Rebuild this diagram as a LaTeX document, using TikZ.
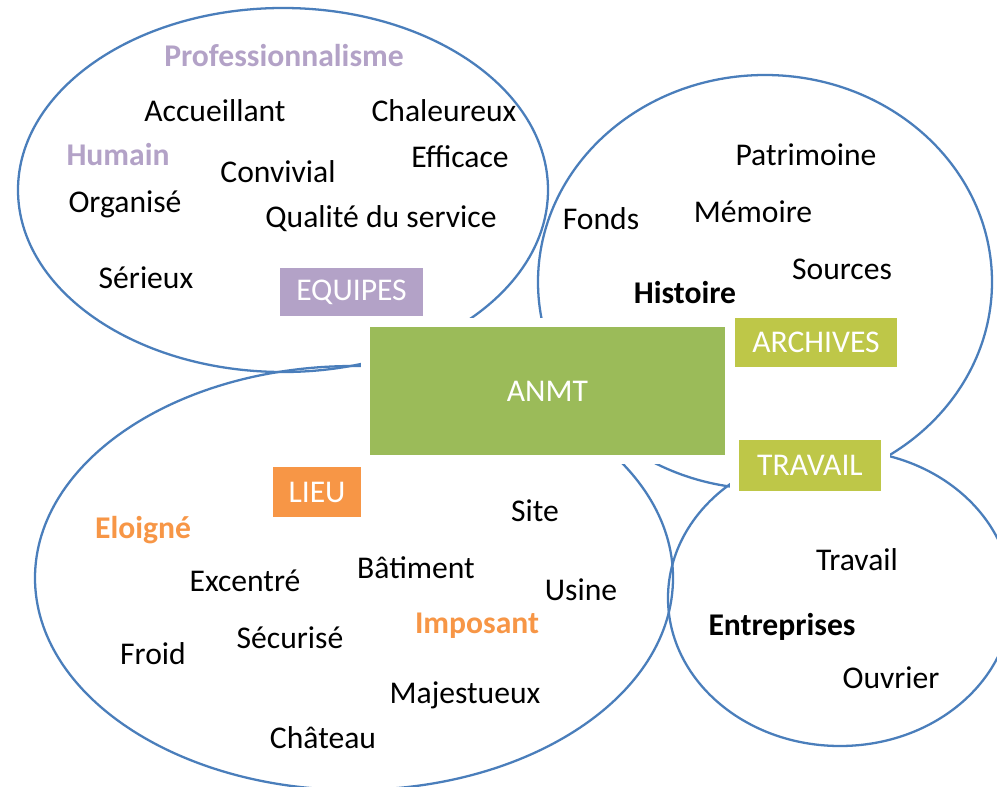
\documentclass[tikz,border=0pt]{standalone}
\usepackage{fontspec}
\setmainfont{Carlito}
\usepackage{tikz}
\usetikzlibrary{shapes, positioning}
\definecolor{bubbleblue}{RGB}{74,126,187}
\definecolor{anmtgreen}{RGB}{155,187,89}
\definecolor{limegreen}{RGB}{190,199,72}
\definecolor{lieuorange}{RGB}{247,150,70}
\definecolor{equipurple}{RGB}{179,162,199}
\tikzstyle{bubble} = [draw=bubbleblue, line width=1.3pt]
\tikzstyle{word} = [anchor=base, inner sep=0pt, font=\fontsize{18}{22}\selectfont]
\tikzstyle{keyword} = [word, font=\fontsize{18}{22}\selectfont\bfseries]
\tikzstyle{tag} = [draw=white, line width=5pt, text=white, inner sep=0pt, font=\fontsize{18}{22}\selectfont]

\begin{document}
\begin{tikzpicture}[x=0.02cm, y=-0.02cm]
			\clip (0,0) rectangle (997,787);
			\fill [white] (0,0) rectangle (997,787);
			
			% the four bubbles
			\draw [bubble] (283,190) ellipse [x radius=265, y radius=182];
			\draw [bubble] (765,282) ellipse [x radius=227, y radius=207];
			\draw [bubble] (354,578) ellipse [x radius=319, y radius=212];
			\draw [bubble] (840,598) ellipse [x radius=172, y radius=148];
			
			% boxes
			\node [tag, fill=anmtgreen, minimum width=7.28cm, minimum height=2.74cm] (anmt) at (547.5,391) {ANMT};
			\node [tag, fill=equipurple, minimum width=3.04cm, minimum height=1.14cm] (equipes) at (351.5,292) {EQUIPES};
			\node [tag, fill=limegreen, minimum width=3.42cm, minimum height=1.16cm] (archives) at (816,342.5) {ARCHIVES};
			\node [tag, fill=limegreen, minimum width=3.02cm, minimum height=1.2cm] (travail) at (810,465.5) {TRAVAIL};
			\node [tag, fill=lieuorange, minimum width=1.94cm, minimum height=1.18cm] (lieu) at (317,492) {LIEU};
			
			% equipes
			\node [keyword, text=equipurple] (pro) at (284,67) {Professionnalisme};
			\node [word] (accueil) at (215,122) {Accueillant};
			\node [word] (chaleur) at (444,122) {Chaleureux};
			\node [keyword, text=equipurple] (humain) at (118,166) {Humain};
			\node [word] (efficace) at (460,168) {Efficace};
			\node [word] (convivial) at (278,183) {Convivial};
			\node [word] (organise) at (125,213) {Organisé};
			\node [word] (qualite) at (381,228) {Qualité du service};
			\node [word] (serieux) at (146,288) {Sérieux};
			
			% archives
			\node [word] (patrimoine) at (806,166) {Patrimoine};
			\node [word] (fonds) at (601,230) {Fonds};
			\node [word] (memoire) at (753,223) {Mémoire};
			\node [word] (sources) at (842,279) {Sources};
			\node [keyword] (histoire) at (685,303) {Histoire};
			
			% lieu
			\node [word] (site) at (535,521) {Site};
			\node [keyword, text=lieuorange] (eloigne) at (143,538) {Eloigné};
			\node [word] (batiment) at (416,578) {Bâtiment};
			\node [word] (excentre) at (245,591) {Excentré};
			\node [word] (usine) at (581,600) {Usine};
			\node [keyword, text=lieuorange] (imposant) at (477,633) {Imposant};
			\node [word] (securise) at (290,648) {Sécurisé};
			\node [word] (froid) at (153,664) {Froid};
			\node [word] (majest) at (465,703) {Majestueux};
			\node [word] (chateau) at (323,748) {Château};
			
			% travail
			\node [word] (trav) at (857,570) {Travail};
			\node [keyword] (entreprises) at (782,635) {Entreprises};
			\node [word] (ouvrier) at (891,688) {Ouvrier};
		\end{tikzpicture}
\end{document}
